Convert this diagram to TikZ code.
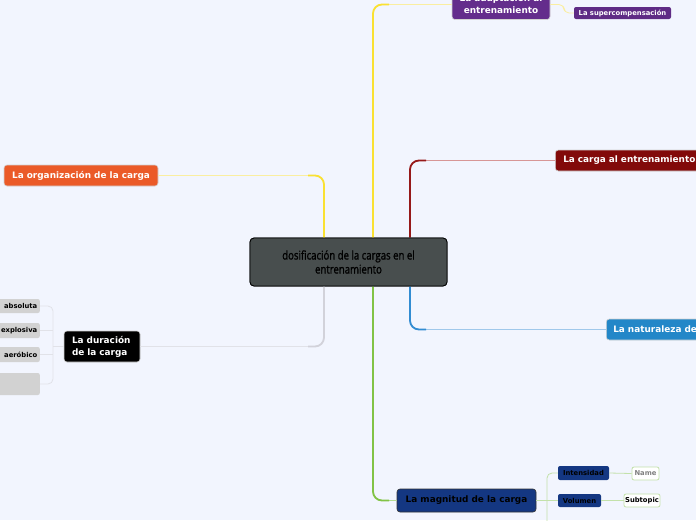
\documentclass[tikz,border=0pt]{standalone}
\usepackage{fontspec}
\setmainfont{DejaVu Sans}
\newfontfamily\condfont[FakeStretch=0.8,FakeBold=1.2]{Open Sans}
\usetikzlibrary{calc}
\definecolor{bg}{RGB}{242,245,254}
\definecolor{cgray}{RGB}{72,78,78}
\definecolor{purp}{RGB}{100,45,140}
\definecolor{darkred}{RGB}{130,10,10}
\definecolor{lblue}{RGB}{35,135,200}
\definecolor{orng}{RGB}{235,90,40}
\definecolor{navy}{RGB}{20,55,130}
\definecolor{leafgray}{RGB}{210,210,210}
\definecolor{cyel}{RGB}{250,225,50}
\definecolor{cyell}{RGB}{250,238,160}
\definecolor{cred}{RGB}{150,25,25}
\definecolor{credl}{RGB}{215,150,150}
\definecolor{cblue}{RGB}{50,140,210}
\definecolor{cbluel}{RGB}{160,200,235}
\definecolor{cgreen}{RGB}{130,195,70}
\definecolor{cgreenl}{RGB}{195,225,170}
\definecolor{cgr}{RGB}{210,210,218}
\definecolor{cgrl}{RGB}{225,226,232}
\tikzset{
  x=1pt,y=-1pt,
  topic/.style={rounded corners=3pt, draw=gray!35, line width=0.6pt, text=white,
    font=\bfseries\fontsize{8.9}{12}\selectfont, inner sep=0pt, align=center},
  small/.style={rounded corners=2pt, inner sep=0pt, font=\bfseries\fontsize{6.8}{8}\selectfont, align=center},
  conn/.style={line width=0.9pt, rounded corners=9pt},
  trunk/.style={line width=1.8pt, rounded corners=9pt},
  thin/.style={line width=0.8pt, rounded corners=5pt}
}
\begin{document}
\begin{tikzpicture}
\fill[bg] (0,0) rectangle (696,520);
\useasboundingbox (0,0) rectangle (696,520);
\clip (0,0) rectangle (696,520);
% center
\node[rounded corners=4pt, draw=black, line width=0.8pt, fill=cgray, minimum width=197pt, minimum height=48pt,
  align=center, font=\condfont\fontsize{12}{14}\selectfont, text=black] (c) at (348.5,262)
  {dosificación de la cargas en el\\entrenamiento};
% main topics
\node[topic, fill=purp, minimum width=98pt, minimum height=30pt] (ad) at (501,4.5) {La adaptación al\\entrenamiento};
\node[small, fill=purp!95!black, text=white, minimum width=97pt, minimum height=12pt] (sc) at (622.5,13) {La supercompensación};
\node[topic, fill=darkred, anchor=west, minimum width=160pt, minimum height=21pt, text width=144pt, align=left] (ca) at (555,160.5) {La carga al entrenamiento};
\node[topic, fill=lblue, anchor=west, minimum width=110pt, minimum height=21pt, text width=96pt, align=left] (na) at (606,329.5) {La naturaleza de};
\node[topic, fill=orng, minimum width=154pt, minimum height=21pt] (or) at (81,175.5) {La organización de la carga};
\node[topic, fill=black, minimum width=76pt, minimum height=31pt, align=left, text width=60pt] (du) at (102,346.5) {La duración\\de la carga};
\node[topic, fill=navy, draw=black!80, text=black, minimum width=139pt, minimum height=23pt] (ma) at (466.5,500.5) {La magnitud de la carga};
% duración leaves
\node[small, fill=leafgray, anchor=east, minimum width=70pt, minimum height=14pt, text width=65pt, align=right] (l1) at (40,306) {absoluta};
\node[small, fill=leafgray, anchor=east, minimum width=70pt, minimum height=15pt, text width=65pt, align=right] (l2) at (40,330.5) {explosiva};
\node[small, fill=leafgray, anchor=east, minimum width=70pt, minimum height=15pt, text width=65pt, align=right] (l3) at (40,354.5) {aeróbico};
\node[small, fill=leafgray, anchor=east, minimum width=70pt, minimum height=22pt] (l4) at (40,384) {};
% magnitud leaves
\node[small, fill=navy, text=black, minimum width=51pt, minimum height=14pt] (in) at (583.5,473) {Intensidad};
\node[small, fill=navy, text=black, minimum width=43pt, minimum height=13pt] (vo) at (579.5,500.5) {Volumen};
\node[small, fill=white, draw=cgreenl, line width=0.8pt, text=gray, minimum width=27pt, minimum height=13pt] (nm) at (645.5,473.5) {Name};
\node[small, fill=white, draw=cgreenl, line width=0.8pt, text=black, minimum width=36pt, minimum height=13pt] (st) at (642,500.5) {Subtopic};
% main connectors
\draw[conn, cyell] ([xshift=-24.5pt]c.north) |- (or.east);
\draw[trunk, cyel] ([xshift=-24.5pt]c.north) |- ($([xshift=-24.5pt]c.north |- or.east)+(-16,0)$);
\draw[conn, cyell] ([xshift=24.5pt]c.north) |- (ad.west);
\draw[trunk, cyel] ([xshift=24.5pt]c.north) |- ($([xshift=24.5pt]c.north |- ad.west)+(16,0)$);
\draw[conn, credl] ([xshift=61.5pt]c.north) |- (ca.west);
\draw[trunk, cred] ([xshift=61.5pt]c.north) |- ($([xshift=61.5pt]c.north |- ca.west)+(16,0)$);
\draw[conn, cbluel] ([xshift=61.5pt]c.south) |- (na.west);
\draw[trunk, cblue] ([xshift=61.5pt]c.south) |- ($([xshift=61.5pt]c.south |- na.west)+(16,0)$);
\draw[conn, cgreen!60!white] ([xshift=24.5pt]c.south) |- (ma.west);
\draw[trunk, cgreen] ([xshift=24.5pt]c.south) |- ($([xshift=24.5pt]c.south |- ma.west)+(16,0)$);
\draw[conn, cgrl] ([xshift=-24.5pt]c.south) |- (du.east);
\draw[trunk, cgr] ([xshift=-24.5pt]c.south) |- ($([xshift=-24.5pt]c.south |- du.east)+(-16,0)$);
% adaptation -> supercompensación
\coordinate (aj) at (564,4.5);
\draw[thin, cyell] (ad.east) -- (aj) |- (sc.west);
% duración branches
\coordinate (dj) at (53,346.5);
\draw[thin, cgrl] (du.west) -- (dj);
\draw[thin, cgrl] (l1.east) -| (dj);
\draw[thin, cgrl] (l4.east) -| (dj);
\draw[thin, cgrl] (l2.east) -- (l2.east -| dj);
\draw[thin, cgrl] (l3.east) -- (l3.east -| dj);
% magnitud branches
\coordinate (mend) at (547,530);
\draw[thin, cgreenl] (ma.east) -- (vo.west);
\draw[thin, cgreenl] (in.west) -| (mend);
\draw[thin, cgreenl] (in.east) -- (nm.west);
\draw[thin, cgreenl] (vo.east) -- (st.west);
% redraw center over connector ends
\node[rounded corners=4pt, draw=black, line width=0.8pt, fill=cgray, minimum width=197pt, minimum height=48pt,
  align=center, font=\condfont\fontsize{12}{14}\selectfont, text=black] at (c) {dosificación de la cargas en el\\entrenamiento};
\end{tikzpicture}
\end{document}
